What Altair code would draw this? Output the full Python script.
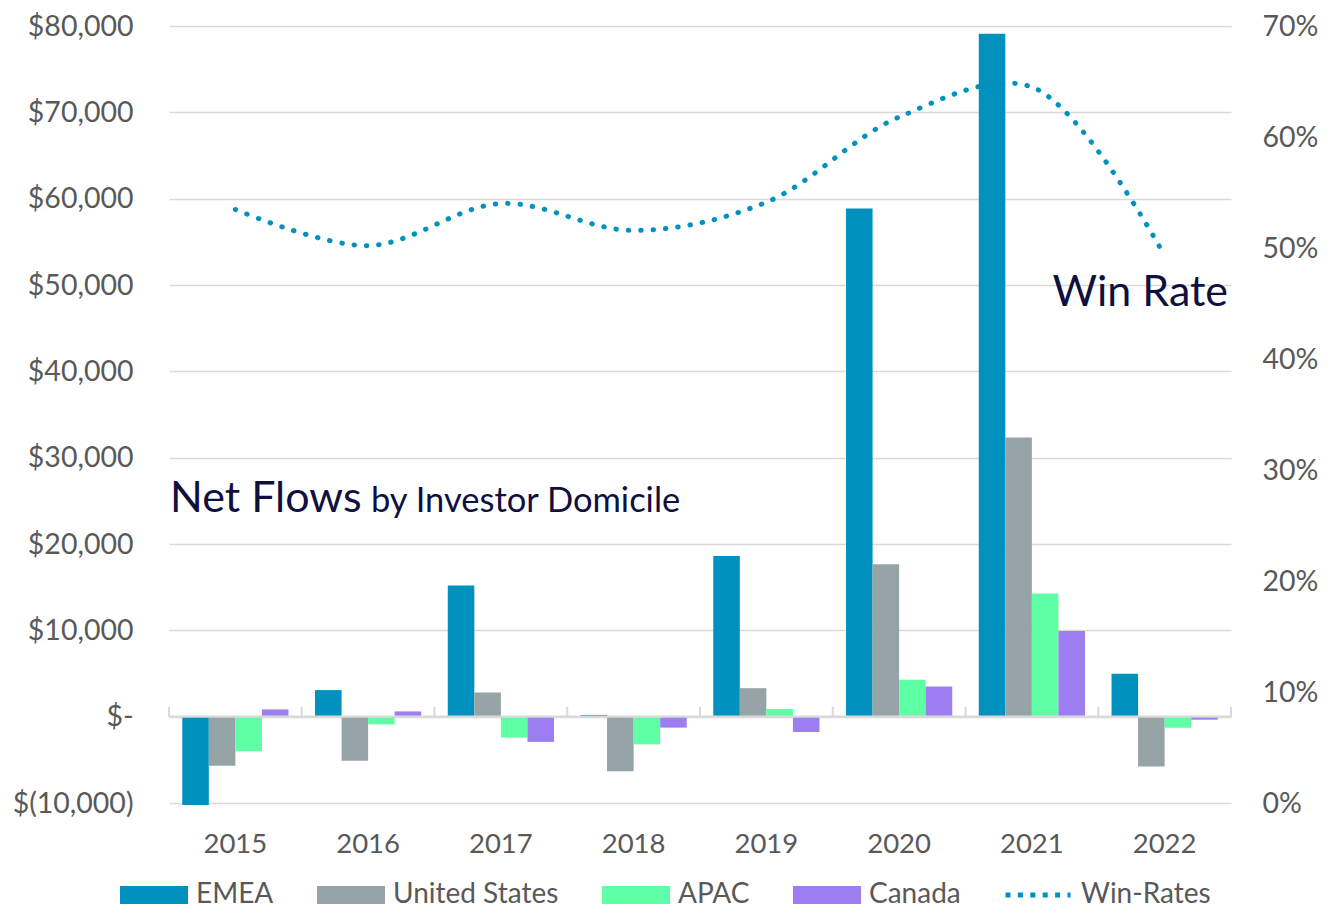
import altair as alt
import pandas as pd

years = ["2015", "2016", "2017", "2018", "2019", "2020", "2021", "2022"]
regions = ["EMEA", "United States", "APAC", "Canada"]
emea = [-10230, 3080, 15190, 200, 18600, 58850, 79100, 4970]
united_states = [-5690, -5110, 2800, -6320, 3300, 17640, 32330, -5780]
apac = [-4000, -890, -2420, -3210, 900, 4270, 14270, -1280]
canada = [840, 610, -2920, -1270, -1780, 3490, 9930, -350]
win_rate = [0.5347, 0.5021, 0.5401, 0.5158, 0.5413, 0.618, 0.645, 0.493]
line_series = ["Win-Rates"]

region_colors = ["#0091BE", "#96A3A7", "#5FFFA5", "#9C7EF0"]
line_color = "#0091BE"
navy = "#10103F"
axis_grey = "#595959"
grid_grey = "#D9D9D9"
left_ticks = [-10000, 0, 10000, 20000, 30000, 40000, 50000, 60000, 70000, 80000]
right_ticks = [0, 0.1, 0.2, 0.3, 0.4, 0.5, 0.6, 0.7]

FONT = "Lato"
PLOT_W = 1062
PLOT_H = 777
STEP = PLOT_W / len(years)
HALF_GAP = STEP * 0.2 / 2

rows = []
for name, vals in zip(regions, [emea, united_states, apac, canada]):
    for y, v in zip(years, vals):
        rows.append({"year": y, "region": name, "flow": v})
bar_df = pd.DataFrame(rows)
wr_df = pd.DataFrame({"year": years, "win_rate": win_rate, "series": line_series * len(years)})

x_axis = alt.Axis(title=None, labelAngle=0, domain=False, ticks=False, grid=False,
                  labelPadding=27, labelFontSize=27.5, labelColor=axis_grey, labelFont=FONT)
x_scale = alt.Scale(paddingInner=0.2, paddingOuter=0.1)

bars = alt.Chart(bar_df).mark_bar().encode(
    x=alt.X("year:N", sort=years, scale=x_scale, axis=x_axis),
    xOffset=alt.XOffset("region:N", sort=regions, scale=alt.Scale(paddingInner=0, paddingOuter=0)),
    y=alt.Y("flow:Q",
            scale=alt.Scale(domain=[-10000, 80000], nice=False, zero=False),
            axis=alt.Axis(title=None, values=left_ticks, domain=False, ticks=False, tickSize=0,
                          grid=True, gridColor=grid_grey, gridWidth=1.6,
                          labelPadding=36, labelFontSize=28.5, labelColor=axis_grey, labelFont=FONT,
                          labelExpr="datum.value == 0 ? '$-' : (datum.value < 0 ? '$(' + format(-datum.value, ',') + ')' : '$' + format(datum.value, ','))")),
    color=alt.Color("region:N", sort=regions,
                    scale=alt.Scale(domain=regions, range=region_colors),
                    legend=alt.Legend(title=None, orient="none", direction="horizontal",
                                      legendX=-49, legendY=835, padding=0,
                                      symbolType="M-1,-0.265H1V0.265H-1Z", symbolSize=4624,
                                      symbolStrokeWidth=0, labelOffset=8, columnPadding=43,
                                      labelLimit=0,
                                      labelFontSize=28, labelColor=axis_grey, labelFont=FONT)),
)

zero_line = alt.Chart(pd.DataFrame({"year": [years[0]]})).mark_rule(
    color=grid_grey, strokeWidth=2.2).encode(y=alt.datum(0))

ticks_left = alt.Chart(pd.DataFrame({"year": years})).mark_rule(
    color=grid_grey, strokeWidth=2, xOffset=-HALF_GAP).encode(
    x=alt.X("year:N", sort=years, bandPosition=0, axis=x_axis),
    y=alt.datum(0), y2=alt.datum(1150))
ticks_right = alt.Chart(pd.DataFrame({"year": [years[-1]]})).mark_rule(
    color=grid_grey, strokeWidth=2, xOffset=HALF_GAP).encode(
    x=alt.X("year:N", sort=years, bandPosition=1, axis=x_axis),
    y=alt.datum(0), y2=alt.datum(1150))

base = alt.layer(bars, zero_line, ticks_left, ticks_right)

line = alt.Chart(wr_df).mark_line(
    strokeWidth=5, strokeDash=[0.5, 11.9], strokeCap="round", interpolate="catmull-rom").encode(
    x=alt.X("year:N", sort=years, axis=x_axis),
    y=alt.Y("win_rate:Q", scale=alt.Scale(domain=[0, 0.7], nice=False),
            axis=alt.Axis(title=None, orient="right", values=right_ticks, format=".0%",
                          domain=False, ticks=False, tickSize=0, grid=False,
                          labelPadding=31, labelFontSize=28.5, labelColor=axis_grey, labelFont=FONT)),
    stroke=alt.Stroke("series:N", scale=alt.Scale(domain=line_series, range=[line_color]),
                      legend=alt.Legend(title=None, orient="none", legendX=834, legendY=834, padding=0,
                                        symbolType="stroke", symbolSize=4225, symbolStrokeWidth=5,
                                        symbolDash=[5, 7.4], labelOffset=8, labelLimit=0,
                                        labelFontSize=28, labelColor=axis_grey, labelFont=FONT)),
)

net_flows = alt.Chart(pd.DataFrame({"t": ["Net Flows"]})).mark_text(
    align="left", baseline="alphabetic", fontSize=43, font=FONT, color=navy).encode(
    x=alt.value(1), y=alt.value(486), text="t:N")
by_domicile = alt.Chart(pd.DataFrame({"t": ["by Investor Domicile"]})).mark_text(
    align="left", baseline="alphabetic", fontSize=34.5, font=FONT, color=navy).encode(
    x=alt.value(202), y=alt.value(486), text="t:N")
win_label = alt.Chart(pd.DataFrame({"t": ["Win Rate"]})).mark_text(
    align="right", baseline="alphabetic", fontSize=43, font=FONT, color=navy).encode(
    x=alt.value(1059), y=alt.value(280), text="t:N")

chart = alt.layer(base, line, net_flows, by_domicile, win_label).resolve_scale(
    y="independent"
).properties(
    width=PLOT_W, height=PLOT_H,
    autosize=alt.AutoSizeParams(type="none"),
    padding={"left": 161, "top": 18, "right": 104, "bottom": 107},
    background="white",
).configure_view(stroke=None)

chart.save("out.html", embed_options={"renderer": "svg", "actions": False})
